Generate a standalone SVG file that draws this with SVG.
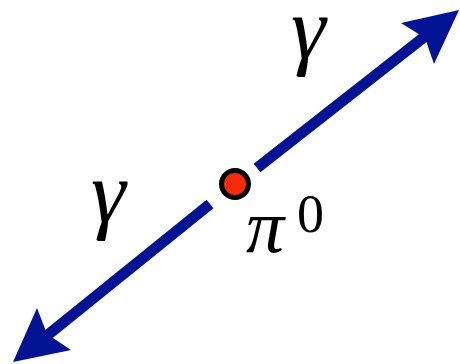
<svg xmlns="http://www.w3.org/2000/svg" width="460" height="364" viewBox="0 0 460 364">
<style>
.shaft{stroke:#021394;stroke-width:11;fill:none}
.head{fill:#021394}
.lbl{font-family:"Liberation Serif","DejaVu Serif",serif;fill:#000}
</style>
<rect width="460" height="364" fill="#fff"/>
<g id="connectors">
<line class="shaft" x1="257" y1="168" x2="428" y2="34"/>
<polygon class="head" points="459,10 401,23 425,38 434,64"/>
<line class="shaft" x1="210" y1="204" x2="44" y2="338"/>
<polygon class="head" points="13,362 37,308 47,334 71,350"/>
</g>
<g id="pi0">
<circle cx="235" cy="184" r="13.5" fill="#f42a0a" stroke="#000" stroke-width="5"/>
<text class="lbl" x="246" y="252" font-size="76" font-style="italic">π</text>
<text class="lbl" x="297" y="232" font-size="54">0</text>
</g>
<g id="gamma1">
<text class="lbl" x="291" y="58" font-size="88" font-style="italic">γ</text>
</g>
<g id="gamma2">
<text class="lbl" x="91" y="222" font-size="88" font-style="italic">γ</text>
</g>
</svg>
